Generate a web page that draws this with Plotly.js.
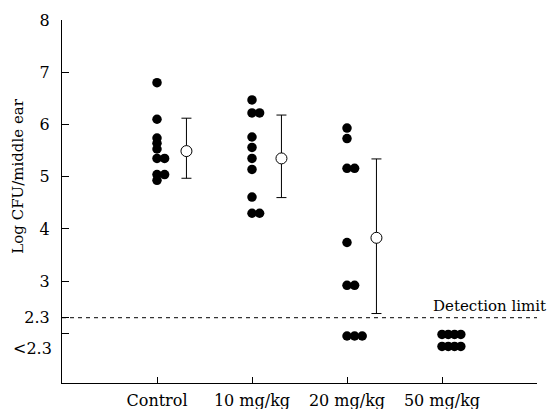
<!DOCTYPE html>
<html>
<head>
<meta charset="utf-8">
<script src="https://cdn.plot.ly/plotly-3.0.1.min.js"></script>
<style>html,body{margin:0;padding:0;background:#fff;}#chart{width:556px;height:409px;}</style>
</head>
<body>
<div id="chart"></div>
<script>
// ---- data ----
const categories = ['Control', '10 mg/kg', '20 mg/kg', '50 mg/kg'];
const controlVals = [6.80, 6.10, 5.74, 5.64, 5.53, 5.35, 5.35, 5.04, 5.04, 4.93];
const mg10Vals = [6.47, 6.22, 6.22, 5.76, 5.56, 5.35, 5.14, 4.61, 4.30, 4.30];
const mg20Vals = [5.93, 5.73, 5.16, 5.16, 3.74, 2.92, 2.92, 1.95, 1.95, 1.95];
const mg50Vals = [1.98, 1.98, 1.98, 1.98, 1.75, 1.75, 1.75, 1.75];
const meanVals = [5.49, 5.35, 3.83];
const sdPlus = [0.63, 0.83, 1.51];
const sdMinus = [0.52, 0.75, 1.45];
const detectionLimit = 2.3;
const yTickVals = [2, 2.3, 3, 4, 5, 6, 7, 8];
const yTickText = ['', '2.3', '3', '4', '5', '6', '7', '8'];
const belowLimitLabel = '<2.3';

// ---- layout helpers ----
const FONT = 'DejaVu Serif, serif';
function spread(vals, catPos) {
  const counts = {};
  vals.forEach(v => { counts[v] = (counts[v] || 0) + 1; });
  const seen = {};
  const xs = [];
  vals.forEach(v => {
    const k = seen[v] || 0;
    seen[v] = k + 1;
    const step = counts[v] >= 4 ? 0.066 : 0.08;
    xs.push(catPos + k * step);
  });
  return xs;
}
const groups = [controlVals, mg10Vals, mg20Vals, mg50Vals];
const dotX = [], dotY = [];
groups.forEach((g, i) => {
  spread(g, i + 1).forEach(x => dotX.push(x));
  g.forEach(v => dotY.push(v));
});
const meanX = meanVals.map((_, i) => i + 1 + 0.31);

const traces = [
  {
    type: 'scatter', mode: 'markers', x: dotX, y: dotY,
    marker: {color: '#000', size: 9.5, line: {width: 0}},
    hoverinfo: 'skip', showlegend: false
  },
  {
    type: 'scatter', mode: 'markers', x: meanX, y: meanVals,
    error_y: {type: 'data', symmetric: false, array: sdPlus, arrayminus: sdMinus,
              color: '#000', thickness: 1, width: 5},
    marker: {color: '#fff', size: 11, line: {color: '#000', width: 1}},
    hoverinfo: 'skip', showlegend: false
  }
];

const layout = {
  width: 556, height: 409,
  margin: {l: 62, r: 19, t: 20, b: 26},
  paper_bgcolor: '#fff', plot_bgcolor: '#fff',
  font: {family: FONT, color: '#000', size: 16},
  xaxis: {
    range: [0, 5], tickvals: [1, 2, 3, 4, 5], ticktext: categories.concat(['']),
    ticks: 'inside', ticklen: 6, tickcolor: '#000', tickwidth: 1,
    ticklabelstandoff: 3,
    showline: true, linecolor: '#000', linewidth: 1,
    showgrid: false, zeroline: false,
    tickfont: {family: FONT, size: 16, color: '#000'}
  },
  yaxis: {
    range: [1.05, 8], tickvals: yTickVals, ticktext: yTickText,
    ticks: 'inside', ticklen: 7, tickcolor: '#000', tickwidth: 1,
    ticklabelstandoff: 8,
    showline: true, linecolor: '#000', linewidth: 1,
    showgrid: false, zeroline: false,
    tickfont: {family: FONT, size: 16, color: '#000'}
  },
  shapes: [{
    type: 'line', xref: 'x', yref: 'y', x0: 0, x1: 5, y0: detectionLimit, y1: detectionLimit,
    line: {color: '#000', width: 1, dash: '4px,4px'}
  }],
  annotations: [
    {text: 'Log CFU/middle ear', textangle: -90, xref: 'paper', yref: 'y',
     x: 0, y: 5.0, xanchor: 'center', yanchor: 'middle', xshift: -44,
     showarrow: false, font: {family: FONT, size: 15, color: '#000'}},
    {text: 'Detection limit', xref: 'paper', yref: 'y', x: 1, y: 2.53,
     xanchor: 'right', yanchor: 'middle', xshift: 11, showarrow: false,
     font: {family: FONT, size: 15, color: '#000'}},
    {text: belowLimitLabel.replace('<', '&lt;'), xref: 'paper', yref: 'y', x: 0, y: 1.72,
     xanchor: 'right', yanchor: 'middle', xshift: -8, showarrow: false,
     font: {family: FONT, size: 16, color: '#000'}}
  ]
};

Plotly.newPlot('chart', traces, layout, {staticPlot: true, displayModeBar: false});
</script>
</body>
</html>
